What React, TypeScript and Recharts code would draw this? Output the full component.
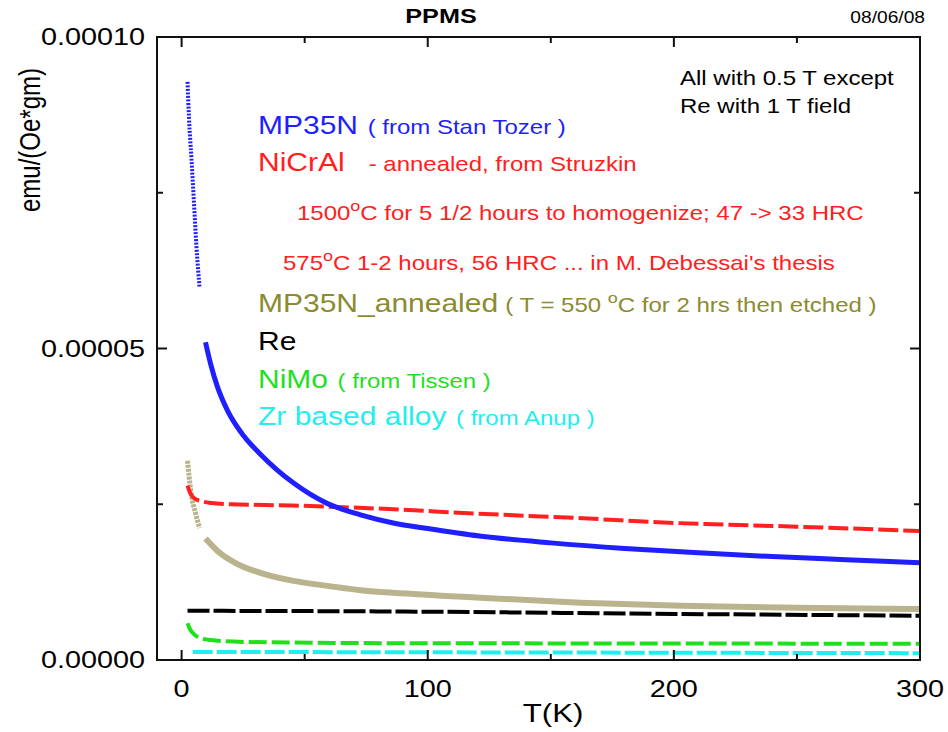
import React from 'react';
import { LineChart, Line, XAxis, YAxis } from 'recharts';

const W = 948;
const H = 732;
const SX = 1.2; // text in the original is drawn a little wide
const FONT = '"Liberation Sans", Arial, Helvetica, sans-serif';

// T in K, values in 1e-6 emu/(Oe*gm)
const blueLowT = [2.4, 3, 4, 5, 6, 7.3];
const blueLowV = [92.8, 87, 80.5, 73.5, 66.5, 59.8];
const blueT = [9.7, 11.8, 14.6, 18.7, 25.2, 32.1, 45.5, 59.3, 72.7, 86, 100, 121, 150, 180, 210, 240, 270, 300];
const blueV = [51, 47.5, 43.8, 40.0, 36.0, 33.0, 28.4, 25.1, 23.3, 22.0, 21.1, 19.9, 18.8, 17.9, 17.2, 16.6, 16.1, 15.6];

const redT = [2.4, 3.5, 5, 8, 12, 20, 45, 80, 120, 160, 200, 250, 300];
const redV = [28.0, 26.8, 26.0, 25.5, 25.2, 25.0, 24.8, 24.3, 23.5, 22.8, 22.0, 21.4, 20.7];

const tanLowT = [2.4, 3.7, 5.7, 7.3];
const tanLowV = [32.0, 27.2, 23.5, 21.2];
const tanT = [9.7, 14.6, 22.7, 32, 45.5, 59.3, 72.7, 86, 121, 162, 203, 250, 300];
const tanV = [19.5, 17.5, 15.4, 14.0, 12.7, 11.9, 11.2, 10.8, 10.0, 9.2, 8.7, 8.4, 8.2];

const reT = [2.4, 80, 200, 300];
const reV = [7.9, 7.8, 7.4, 7.1];

const nimoT = [2.4, 3.5, 4.9, 7, 11.8, 25, 86, 200, 300];
const nimoV = [5.9, 4.9, 4.2, 3.6, 3.2, 2.9, 2.7, 2.65, 2.6];

const zrT = [4.5, 150, 300];
const zrV = [1.3, 1.2, 1.1];

const xTicks = [0, 50, 100, 150, 200, 250, 300];
const yTicks = [0, 25, 50, 75, 100];

const X_DOMAIN = [-10, 300];
const Y_DOMAIN = [0, 100];

// layout
const MARGIN = { top: 37, right: 28, bottom: 0, left: 0 };
const X_AXIS_H = 72;
const Y_AXIS_W = 157;
const PLOT_L = MARGIN.left + Y_AXIS_W;
const PLOT_T = MARGIN.top;
const PLOT_W = W - MARGIN.right - PLOT_L;
const PLOT_H = H - X_AXIS_H - PLOT_T;

// same linear mapping the chart uses, for the frame and its tick marks
const xPx = (t: number) => PLOT_L + ((t - X_DOMAIN[0]) / (X_DOMAIN[1] - X_DOMAIN[0])) * PLOT_W;
const yPx = (v: number) => PLOT_T + ((Y_DOMAIN[1] - v) / (Y_DOMAIN[1] - Y_DOMAIN[0])) * PLOT_H;

const rows = (t: number[], v: number[]) => t.map((x, i) => ({ t: x, v: v[i] }));

// stretched text helper
function Txt({ x, y, size, fill = '#000', anchor = 'start', weight, children }: any) {
  return (
    <text
      transform={`translate(${x},${y}) scale(${SX},1)`}
      fontSize={size}
      fill={fill}
      textAnchor={anchor}
      fontWeight={weight}
      fontFamily={FONT}
    >
      {children}
    </text>
  );
}

const BottomLabel = ({ x, y, payload }: any) => (
  <Txt x={x} y={y + 37} size={24} anchor="middle">{payload.value}</Txt>
);
const LeftLabel = ({ x, y, payload }: any) => (
  <Txt x={x - 12} y={y + 8} size={24} anchor="end">{(payload.value * 1e-6).toFixed(5)}</Txt>
);

// frame with inward tick marks on all four sides
function Frame() {
  const ink = { stroke: '#111', strokeWidth: 2 };
  const bottom = PLOT_T + PLOT_H;
  const right = PLOT_L + PLOT_W;
  return (
    <g>
      <rect x={PLOT_L} y={PLOT_T} width={PLOT_W} height={PLOT_H} fill="none" {...ink} />
      {xTicks.map((t) => {
        const len = t % 100 === 0 ? 10 : 6;
        const x = xPx(t);
        return (
          <g key={`x${t}`}>
            <line x1={x} x2={x} y1={PLOT_T} y2={PLOT_T + len} {...ink} />
            <line x1={x} x2={x} y1={bottom} y2={bottom - len} {...ink} />
          </g>
        );
      })}
      {yTicks.map((v) => {
        const len = v % 50 === 0 ? 10 : 6;
        const y = yPx(v);
        return (
          <g key={`y${v}`}>
            <line x1={PLOT_L} x2={PLOT_L + len} y1={y} y2={y} {...ink} />
            <line x1={right} x2={right - len} y1={y} y2={y} {...ink} />
          </g>
        );
      })}
    </g>
  );
}

export default function App() {
  const blue = '#1f1fff';
  const red = '#ff2020';
  const tan = '#bab48e';
  const olive = '#8b8b2f';
  const green = '#1fe01f';
  const cyan = '#22eeee';

  const axisCommon = { type: 'number' as const, allowDataOverflow: true, interval: 0, tickSize: 0, tickMargin: 0,
    axisLine: false, tickLine: false };

  return (
    <div style={{ position: 'absolute', left: 0, top: 0, width: W, height: H, background: '#fff' }}>
      <LineChart width={W} height={H} margin={MARGIN}>
        <XAxis dataKey="t" domain={X_DOMAIN} ticks={[0, 100, 200, 300]} height={X_AXIS_H}
          tick={<BottomLabel />} {...axisCommon} />
        <YAxis domain={Y_DOMAIN} ticks={[0, 50, 100]} width={Y_AXIS_W} tick={<LeftLabel />} {...axisCommon} />

        <Line data={rows(zrT, zrV)} dataKey="v" type="monotone" stroke={cyan}
          strokeWidth={4} strokeDasharray="20 4" dot={false} isAnimationActive={false} />
        <Line data={rows(nimoT, nimoV)} dataKey="v" type="monotone" stroke={green}
          strokeWidth={4} strokeDasharray="18 5" dot={false} isAnimationActive={false} />
        <Line data={rows(reT, reV)} dataKey="v" type="monotone" stroke="#000"
          strokeWidth={4} strokeDasharray="22 4" dot={false} isAnimationActive={false} />
        <Line data={rows(tanLowT, tanLowV)} dataKey="v" type="monotone" stroke={tan}
          strokeWidth={5} strokeDasharray="3 1" dot={false} isAnimationActive={false} />
        <Line data={rows(tanT, tanV)} dataKey="v" type="monotone" stroke={tan} strokeWidth={6}
          dot={false} isAnimationActive={false} />
        <Line data={rows(redT, redV)} dataKey="v" type="monotone" stroke={red} strokeWidth={4}
          strokeDasharray="20 5" dot={false} isAnimationActive={false} />
        <Line data={rows(blueLowT, blueLowV)} dataKey="v" type="monotone" stroke={blue} strokeWidth={4}
          strokeDasharray="2 1.5" dot={false} isAnimationActive={false} />
        <Line data={rows(blueT, blueV)} dataKey="v" type="monotone" stroke={blue} strokeWidth={5}
          dot={false} isAnimationActive={false} />
      </LineChart>

      <svg width={W} height={H} style={{ position: 'absolute', left: 0, top: 0, pointerEvents: 'none' }}>
        <Frame />

        <Txt x={441} y={23} size={21} anchor="middle" weight="bold">PPMS</Txt>
        <Txt x={925} y={23} size={16} anchor="end">08/06/08</Txt>

        <text transform={`translate(40,140) rotate(-90) scale(1,${SX})`} fontSize={24} textAnchor="middle"
          fontFamily={FONT}>emu/(Oe*gm)</text>
        <Txt x={553} y={722} size={26} anchor="middle">T(K)</Txt>

        <Txt x={680} y={85} size={20}>All with 0.5 T except</Txt>
        <Txt x={680} y={113} size={20}>Re with 1 T field</Txt>

        <Txt x={258} y={134} size={25} fill={blue}>
          MP35N<tspan fontSize={20} dx={8}>( from Stan Tozer )</tspan>
        </Txt>
        <Txt x={258} y={171} size={25} fill={red}>
          NiCrAl<tspan fontSize={20} dx={20}>- annealed, from Struzkin</tspan>
        </Txt>
        <Txt x={297} y={220} size={20} fill={red}>
          1500<tspan dy={-9} fontSize={15}>o</tspan><tspan dy={9}>C for 5 1/2 hours to homogenize; 47 -&gt; 33 HRC</tspan>
        </Txt>
        <Txt x={283} y={270} size={20} fill={red}>
          575<tspan dy={-9} fontSize={15}>o</tspan><tspan dy={9}>C 1-2 hours, 56 HRC ... in M. Debessai's thesis</tspan>
        </Txt>
        <Txt x={258} y={312} size={25} fill={olive}>
          MP35N_annealed<tspan fontSize={20} dx={6}>( T = 550 </tspan><tspan dy={-9} fontSize={15}>o</tspan>
          <tspan dy={9} fontSize={20}>C for 2 hrs then etched )</tspan>
        </Txt>
        <Txt x={258} y={350} size={25} fill="#000">Re</Txt>
        <Txt x={258} y={388} size={25} fill={green}>
          NiMo<tspan fontSize={20} dx={8}>( from Tissen )</tspan>
        </Txt>
        <Txt x={258} y={425} size={25} fill={cyan}>
          Zr based alloy<tspan fontSize={20} dx={8}>( from Anup )</tspan>
        </Txt>
      </svg>
    </div>
  );
}
